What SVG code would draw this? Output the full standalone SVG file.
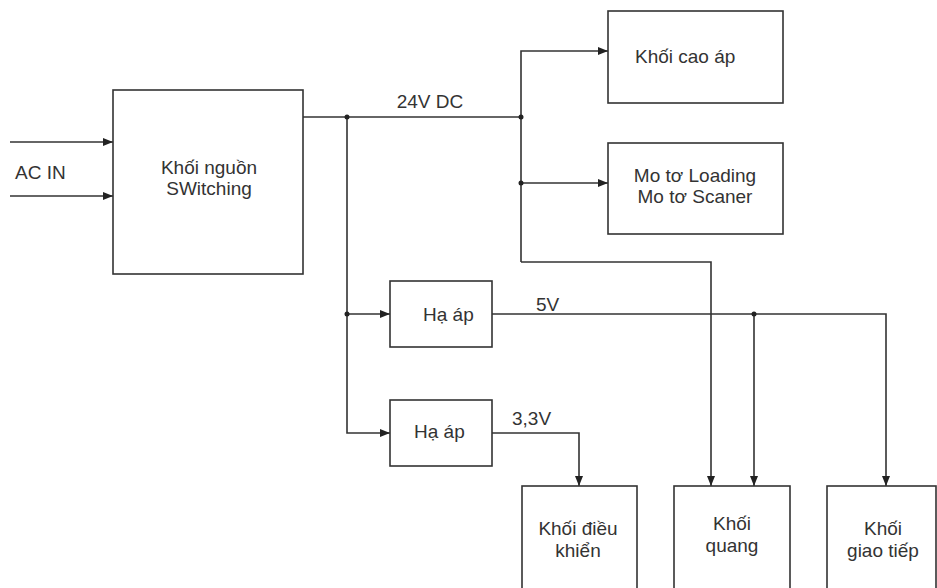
<svg xmlns="http://www.w3.org/2000/svg" width="937" height="588" viewBox="0 0 937 588">
<style>
  .box { fill: #ffffff; stroke: #333333; stroke-width: 1.6; }
  .wire { fill: none; stroke: #333333; stroke-width: 1.6; }
  .dot { fill: #222222; }
  text { font-family: "Liberation Sans", Arial, sans-serif; font-size: 19px; fill: #333333; }
  .c { text-anchor: middle; }
</style>
<defs>
  <marker id="arr" viewBox="0 0 10 8" refX="10" refY="4" markerWidth="10" markerHeight="8" markerUnits="userSpaceOnUse" orient="auto">
    <path d="M0,0 L10,4 L0,8 Z" fill="#222222"/>
  </marker>
</defs>
<rect width="937" height="588" fill="#ffffff"/>
<g id="connectors">
  <line class="wire" x1="10" y1="142" x2="113" y2="142" marker-end="url(#arr)"/>
  <line class="wire" x1="10" y1="196" x2="113" y2="196" marker-end="url(#arr)"/>
  <polyline class="wire" points="303,117 521,117"/>
  <polyline class="wire" points="521,262 521,51 608,51" marker-end="url(#arr)"/>
  <line class="wire" x1="521" y1="183" x2="608" y2="183" marker-end="url(#arr)"/>
  <polyline class="wire" points="521,262 711,262 711,486" marker-end="url(#arr)"/>
  <polyline class="wire" points="347,117 347,433 390,433" marker-end="url(#arr)"/>
  <line class="wire" x1="347" y1="314" x2="390" y2="314" marker-end="url(#arr)"/>
  <polyline class="wire" points="492,314 886,314 886,486" marker-end="url(#arr)"/>
  <line class="wire" x1="754" y1="314" x2="754" y2="486" marker-end="url(#arr)"/>
  <polyline class="wire" points="492,433 579,433 579,486" marker-end="url(#arr)"/>
  <circle class="dot" cx="347" cy="117" r="2.5"/>
  <circle class="dot" cx="521" cy="117" r="2.5"/>
  <circle class="dot" cx="521" cy="183" r="2.5"/>
  <circle class="dot" cx="347" cy="314" r="2.5"/>
  <circle class="dot" cx="754" cy="314" r="2.5"/>
  <text x="15" y="179">AC IN</text>
  <text class="c" x="430" y="108">24V DC</text>
  <text x="536" y="311">5V</text>
  <text x="512" y="425">3,3V</text>
</g>
<g id="switching">
  <rect class="box" x="113" y="90" width="190" height="184"/>
  <text class="c" x="209" y="174">Khối nguồn</text>
  <text class="c" x="209" y="195">SWitching</text>
</g>
<g id="cao-ap">
  <rect class="box" x="608" y="11" width="175" height="92"/>
  <text x="635" y="63">Khối cao áp</text>
</g>
<g id="mo-to">
  <rect class="box" x="608" y="143" width="175" height="91"/>
  <text class="c" x="695" y="182">Mo tơ Loading</text>
  <text class="c" x="695" y="203">Mo tơ Scaner</text>
</g>
<g id="ha-ap-5v">
  <rect class="box" x="390" y="281" width="102" height="66"/>
  <text x="423" y="321">Hạ áp</text>
</g>
<g id="ha-ap-33v">
  <rect class="box" x="390" y="400" width="102" height="66"/>
  <text x="414" y="438">Hạ áp</text>
</g>
<g id="dieu-khien">
  <rect class="box" x="522" y="486" width="115" height="110"/>
  <text class="c" x="578" y="535">Khối điều</text>
  <text class="c" x="578" y="557">khiển</text>
</g>
<g id="quang">
  <rect class="box" x="674" y="486" width="116" height="110"/>
  <text class="c" x="732" y="530">Khối</text>
  <text class="c" x="732" y="552">quang</text>
</g>
<g id="giao-tiep">
  <rect class="box" x="827" y="486" width="109" height="110"/>
  <text class="c" x="883" y="535">Khối</text>
  <text class="c" x="883" y="557">giao tiếp</text>
</g>
</svg>
